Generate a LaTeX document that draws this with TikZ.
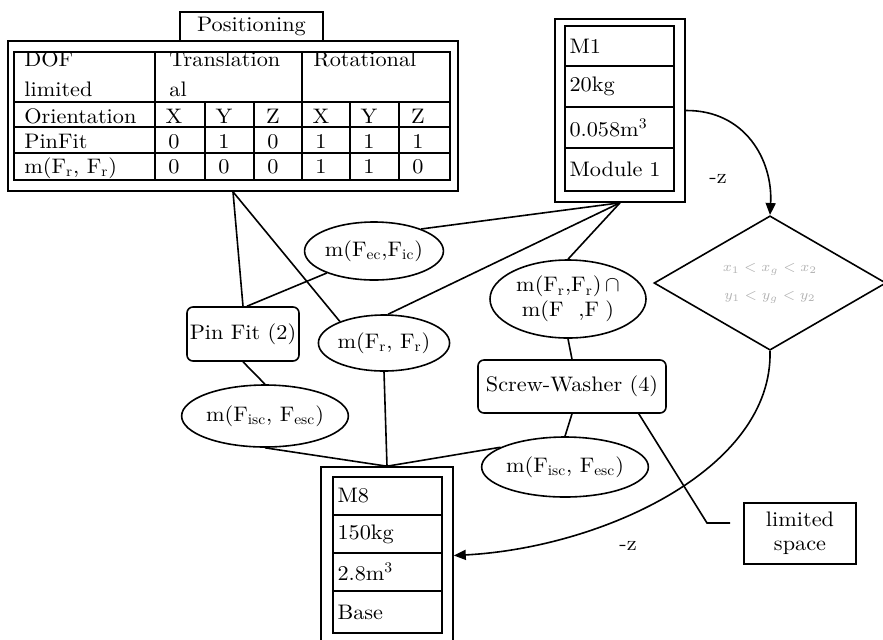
\documentclass[tikz,border=0pt]{standalone}
\usepackage{fontspec}
\setmainfont{lmroman10-regular.otf}[FakeStretch=1.06]
\usetikzlibrary{shapes.geometric,arrows.meta}
\tikzset{
  ln/.style={line width=0.8pt},
  thin ln/.style={line width=0.6pt},
  ell/.style={draw, ellipse, line width=0.8pt, inner sep=0pt, align=center},
  rbox/.style={draw, rounded corners=3pt, line width=0.8pt, inner sep=0pt},
  pbox/.style={draw, line width=0.8pt, inner sep=0pt},
  celltxt/.style={anchor=base west, inner sep=0pt},
  valtxt/.style={anchor=base, inner sep=0pt},
  rowbox/.style={draw, line width=0.8pt, minimum width=54.5pt, text width=50pt, inner xsep=2.25pt, inner ysep=0pt, align=left},
  arr/.style={line width=0.8pt, -{Triangle[length=6pt,width=5pt]}},
  every node/.style={font=\fontsize{10.5}{12.5}\selectfont}
}
\begin{document}
\begin{tikzpicture}[x=0.5pt, y=-0.5pt]
\useasboundingbox (0,0) rectangle (883,639);

% ---- Table ----
\node[pbox, minimum width=71.5pt, minimum height=14.5pt] (posbox) at (251.5,26.5) {Positioning};
\node[pbox, minimum width=225pt, minimum height=75pt] (tab) at (233,116) {};
\draw[thin ln] (14,52) rectangle (450,180);
\foreach \yy in {102,127,153} \draw[thin ln] (14,\yy) -- (450,\yy);
\foreach \xx in {155,302} \draw[thin ln] (\xx,52) -- (\xx,180);
\foreach \xx in {205,254,350,399} \draw[thin ln] (\xx,102) -- (\xx,180);
\node[celltxt] (h1) at (24,66) {DOF};
\node[celltxt] (h2) at (24,96) {limited};
\node[celltxt] (h3) at (169,66) {Translation};
\node[celltxt] (h4) at (169,96) {al};
\node[celltxt] (h5) at (313,66) {Rotational};
\node[celltxt] (r1) at (24,123) {Orientation};
\node[celltxt] (r2) at (24,148) {PinFit};
\node[celltxt] (r3) at (24,173) {m(F\textsubscript{r}, F\textsubscript{r})};
\foreach \cx/\a/\b/\c [count=\i] in {155/X/0/0, 205/Y/1/0, 254/Z/0/0, 302/X/1/1, 350/Y/1/1, 399/Z/1/0} {
  \node[valtxt] (oa\i) at (\cx+19,123) {\a};
  \node[valtxt] (ob\i) at (\cx+19,148) {\b};
  \node[valtxt] (oc\i) at (\cx+19,173) {\c};
}

% ---- M1 ----
\node[pbox, minimum width=65pt, minimum height=91.5pt] (M1) at (620,110.5) {};
\node[rowbox, minimum height=20pt] (m1a) at (619.5,46) {M1};
\node[rowbox, minimum height=20.5pt] (m1b) at (619.5,86.5) {20kg};
\node[rowbox, minimum height=20.5pt] (m1c) at (619.5,127.5) {0.058m\textsuperscript{3}};
\node[rowbox, minimum height=21.5pt] (m1d) at (619.5,169.5) {Module 1};

% ---- M8 ----
\node[pbox, minimum width=66pt, minimum height=88.5pt] (M8) at (387,555.5) {};
\node[rowbox, minimum height=19pt] (m8a) at (387.5,496) {M8};
\node[rowbox, minimum height=19pt] (m8b) at (387.5,534) {150kg};
\node[rowbox, minimum height=19pt] (m8c) at (387.5,572) {2.8m\textsuperscript{3}};
\node[rowbox, minimum height=21pt] (m8d) at (387.5,612) {Base};

% ---- diamond ----
\node[draw, diamond, line width=0.8pt, inner sep=0pt, minimum width=116pt, minimum height=61pt,
      align=center, text=gray!60, font=\fontsize{7.5}{14}\selectfont] (dia) at (770,283)
      {$x_1 < x_g < x_2$\\ $y_1 < y_g < y_2$};

% ---- ellipses ----
\node[ell, minimum width=62pt, minimum height=29pt] (ec) at (374,251) {m(F\textsubscript{ec},F\textsubscript{ic})};
\node[ell, minimum width=58pt, minimum height=28pt] (rr) at (384,343) {m(F\textsubscript{r}, F\textsubscript{r})};
\node[ell, minimum width=82pt, minimum height=31pt] (le) at (265,416) {m(F\textsubscript{isc}, F\textsubscript{esc})};
\node[ell, minimum width=82pt, minimum height=30pt] (re) at (565,467) {m(F\textsubscript{isc}, F\textsubscript{esc})};
\node[ell, minimum width=78pt, minimum height=39pt, font=\fontsize{10.5}{12.5}\selectfont] (ri) at (568,299)
      {m(F\textsubscript{r},F\textsubscript{r})$\,\cap$\\ m(F\hspace{0.7em},F\hspace{0.3em})};

% ---- boxes ----
\node[rbox, minimum width=56pt, minimum height=27pt] (pin) at (243,334) {Pin Fit (2)};
\node[rbox, minimum width=94pt, minimum height=26.5pt] (sw) at (572,386.5) {Screw-Washer (4)};
\node[pbox, minimum width=56pt, minimum height=30.5pt, align=center, font=\fontsize{10.5}{12}\selectfont] (ls) at (800,533.5) {limited\\ space};

% ---- labels ----
\node (z1) at (718,179) {-z};
\node (z2) at (628,546) {-z};

% ---- connectors ----
\draw[ln] (tab.south) -- (pin.north);
\draw[ln] (tab.south) -- (rr.154);
\draw[ln] ([xshift=2pt]pin.north) -- (ec.205);
\draw[ln] (M1.south) -- (ec.25);
\draw[ln] (M1.south) -- (rr.82);
\draw[ln] (M1.south) -- (ri.north);
\draw[ln] (pin.south) -- (le.north);
\draw[ln] (le.south) -- (M8.north);
\draw[ln] (rr.south) -- (M8.north);
\draw[ln] (re.163) -- (M8.north);
\draw[ln] (ri.south) -- (sw.north);
\draw[ln] (sw.south) -- (re.north);
\coordinate (ls1) at (707,523);
\coordinate (ls2) at (730,523);
\draw[ln] ([xshift=-14pt]sw.south east) -- (ls1) -- (ls2);
\draw[arr] (M1.east) .. controls (745,110) and (773,160) .. (dia.north);
\draw[arr] (dia.south) .. controls (773,470) and (600,548) .. (M8.east);
\end{tikzpicture}
\end{document}
